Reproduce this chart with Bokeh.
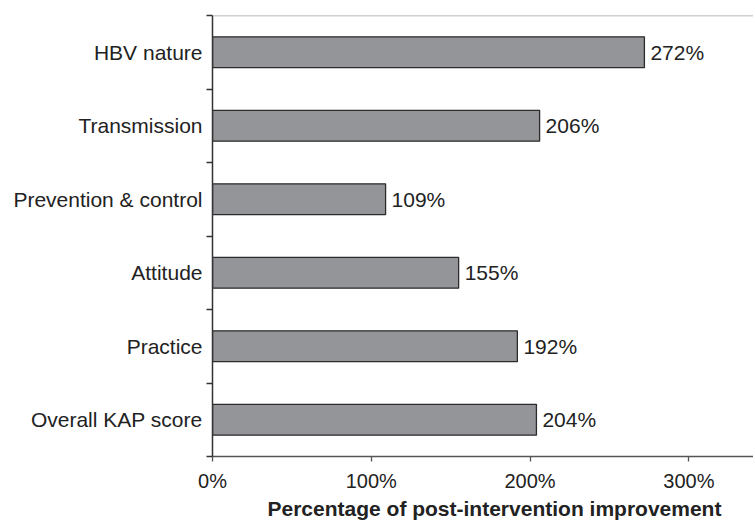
from bokeh.plotting import figure
from bokeh.models import (ColumnDataSource, Range1d, FixedTicker, CustomJSTickFormatter,
                          PrintfTickFormatter, Span, Title)
from bokeh.core.properties import value
from bokeh.embed import file_html
from bokeh.resources import INLINE

# ---- data ----
categories = ["HBV nature", "Transmission", "Prevention & control",
              "Attitude", "Practice", "Overall KAP score"]
improvement = [272, 206, 109, 155, 192, 204]
x_ticks = [0, 100, 200, 300]
x_title = "Percentage of post-intervention improvement"

FONT = "Liberation Sans"
n = len(categories)
# top category drawn at top: position index from bottom
ypos = [n - 1 - i + 0.5 for i in range(n)]
labels_bottom_up = list(reversed(categories))

src = ColumnDataSource(dict(
    y=ypos, v=improvement, txt=[f"{v}%" for v in improvement]))

p = figure(width=753, height=520, output_backend="svg", toolbar_location=None,
           x_range=Range1d(0, 340.7), y_range=Range1d(0, n),
           min_border_left=212, min_border_right=0, min_border_top=15,
           min_border_bottom=64)
p.outline_line_color = None
p.grid.grid_line_color = None
p.background_fill_color = "white"
p.border_fill_color = "white"

p.hbar(y="y", right="v", left=0, height=0.42, source=src,
       fill_color="#939598", line_color="#2b2b2b", line_width=1.3)

p.text(x="v", y="y", text="txt", source=src, x_offset=6,
       text_font=value(FONT), text_font_size="21px", text_color="#222222",
       text_baseline="middle", text_align="left")

# top border line
p.add_layout(Span(location=n, dimension="width", line_color="#a0a0a0", line_width=1.5))

# y axis
yax = p.yaxis[0]
yax.ticker = FixedTicker(ticks=ypos, minor_ticks=list(range(n + 1)))
yax.formatter = CustomJSTickFormatter(args=dict(labels=labels_bottom_up), code="""
const i = Math.round(tick - 0.5);
return (i >= 0 && i < labels.length) ? labels[i] : '';
""")
yax.major_tick_out = 0
yax.major_tick_in = 0
yax.minor_tick_out = 6
yax.minor_tick_in = 0
yax.minor_tick_line_color = "#333333"
yax.minor_tick_line_width = 1.3
yax.axis_line_color = "#333333"
yax.axis_line_width = 1.5
yax.major_label_standoff = 4
yax.major_label_text_font = FONT
yax.major_label_text_font_size = "21px"
yax.major_label_text_color = "#222222"

# x axis
xax = p.xaxis[0]
xax.ticker = FixedTicker(ticks=x_ticks, minor_ticks=[])
xax.formatter = PrintfTickFormatter(format="%d%%")
xax.major_tick_out = 5
xax.major_tick_in = 0
xax.major_tick_line_color = "#555555"
xax.major_tick_line_width = 1.3
xax.axis_line_color = "#555555"
xax.axis_line_width = 1.5
xax.major_label_standoff = 8
xax.major_label_text_font = FONT
xax.major_label_text_font_size = "20px"
xax.major_label_text_color = "#222222"

p.add_layout(Title(text=x_title, align="left", offset=55, standoff=0,
                   text_font=FONT, text_font_size="21px", text_font_style="bold",
                   text_color="#222222"), "below")

open("out.html", "w").write(file_html(p, INLINE))
